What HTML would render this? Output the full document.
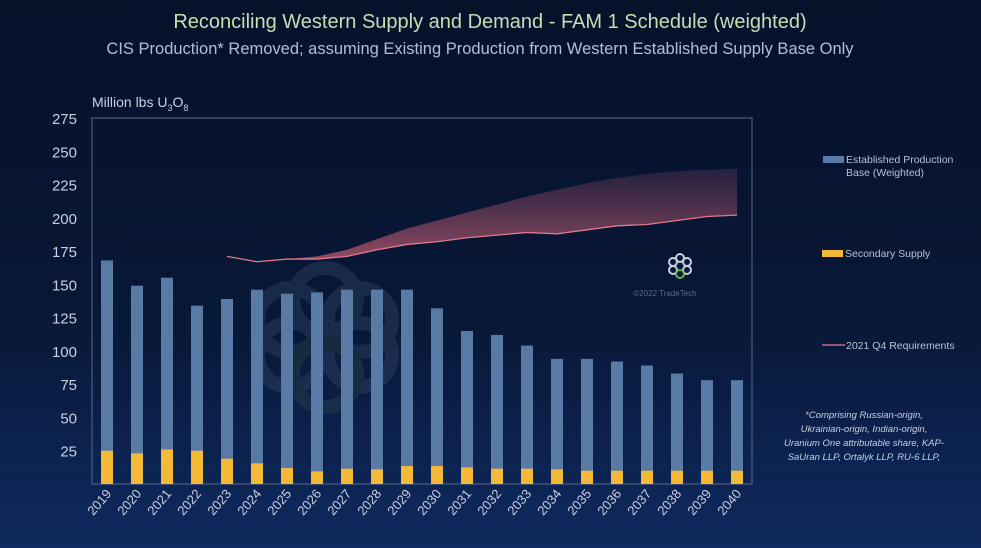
<!DOCTYPE html>
<html><head><meta charset="utf-8"><style>
html,body{margin:0;padding:0;}
body{width:981px;height:548px;overflow:hidden;background:linear-gradient(180deg,#06112a 0%,#081838 60%,#0f2a60 100%);font-family:"Liberation Sans",sans-serif;}
svg{display:block}
</style></head><body>
<svg width="981" height="548">
<defs>
<linearGradient id="bandGrad" x1="0" y1="0" x2="0" y2="1">
<stop offset="0" stop-color="#3a2a48" stop-opacity="0.6"/>
<stop offset="1" stop-color="#b0556a" stop-opacity="0.85"/>
</linearGradient>
</defs>
<text x="490" y="28" text-anchor="middle" font-size="20" fill="#c8ddb4">Reconciling Western Supply and Demand - FAM 1 Schedule (weighted)</text>
<text x="480" y="54" text-anchor="middle" font-size="16.5" fill="#b4bdd6">CIS Production* Removed; assuming Existing Production from Western Established Supply Base Only</text>
<text x="92" y="107" font-size="14" fill="#c8cfe0">Million lbs U<tspan font-size="9" dy="4">3</tspan><tspan dy="-4">O</tspan><tspan font-size="9" dy="4">8</tspan></text>
<rect x="92" y="118" width="660" height="366" fill="none" stroke="#5a6a88" stroke-width="1"/>
<g id="watermark" opacity="0.13" fill="none" stroke="#8aa0c0" stroke-width="14">
<circle cx="325" cy="300" r="32"/><circle cx="290" cy="320" r="32"/><circle cx="360" cy="320" r="32"/>
<circle cx="290" cy="355" r="32"/><circle cx="360" cy="355" r="32"/><circle cx="325" cy="375" r="32" stroke="#6a9a5a"/>
</g>
<g id="bars"></g>
<g id="bandLayer"></g>
<g id="yticks"></g>
<g id="xticks"></g>
<g fill="none" stroke-width="2">
<circle cx="680" cy="258" r="4" stroke="#c8d0e0"/><circle cx="673" cy="262" r="4" stroke="#c8d0e0"/><circle cx="687" cy="262" r="4" stroke="#c8d0e0"/>
<circle cx="673" cy="270" r="4" stroke="#c8d0e0"/><circle cx="687" cy="270" r="4" stroke="#c8d0e0"/><circle cx="680" cy="274" r="4" stroke="#6ab04a"/>
</g>
<text x="665" y="296" text-anchor="middle" font-size="8" fill="#5a6a88">©2022 TradeTech</text>
<g font-size="10.5" fill="#b8c0d4">
<rect x="823" y="156" width="21" height="7" fill="#5a7aa6"/>
<text x="846" y="163">Established Production</text>
<text x="846" y="176">Base (Weighted)</text>
<rect x="822" y="250" width="21" height="7" fill="#f4b936"/>
<text x="845" y="257">Secondary Supply</text>
<line x1="822" y1="345" x2="845" y2="345" stroke="#c06a80" stroke-width="1.5"/>
<text x="846" y="349">2021 Q4 Requirements</text>
</g>
<g font-size="9.5" font-style="italic" fill="#c8d0e0" text-anchor="middle">
<text x="864" y="418">*Comprising Russian-origin,</text>
<text x="864" y="432">Ukrainian-origin, Indian-origin,</text>
<text x="864" y="446">Uranium One attributable share, KAP-</text>
<text x="864" y="460">SaUran LLP, Ortalyk LLP, RU-6 LLP,</text>
</g>
</svg>
<script>
const years=[2019,2020,2021,2022,2023,2024,2025,2026,2027,2028,2029,2030,2031,2032,2033,2034,2035,2036,2037,2038,2039,2040];
const totalSupply=[168,149,155,134,139,146,143,144,146,146,146,132,115,112,104,94,94,92,89,83,78,78];
const secondary=[25,23,26,25,19,15.5,12,9.5,11.5,11,13.5,13.5,12.5,11.5,11.5,11,10,10,10,10,10,10];
const reqYears=[2023,2024,2025,2026,2027,2028,2029,2030,2031,2032,2033,2034,2035,2036,2037,2038,2039,2040];
const requirements=[171,167,169,169,171,176,180,182,185,187,189,188,191,194,195,198,201,202];
const reqUpper=[171,167,169,171,176,184,192,198,204,210,216,221,226,230,233,235,236,237];
const yTicks=[25,50,75,100,125,150,175,200,225,250,275];
const NS="http://www.w3.org/2000/svg";
const y0=484,pxPer=(484-118)/275;
const Y=v=>y0-v*pxPer;
const X=yr=>107+(yr-2019)*30;
function mk(t,a){const e=document.createElementNS(NS,t);for(const k in a)e.setAttribute(k,a[k]);return e;}
const bars=document.getElementById('bars');
years.forEach((yr,i)=>{
 const b=mk('rect',{x:X(yr)-6,y:Y(totalSupply[i]),width:12,height:Y(0)-Y(totalSupply[i]),fill:'#5a7aa6'});
 
 
 bars.appendChild(b);
 const s=mk('rect',{x:X(yr)-6,y:Y(secondary[i]),width:12,height:Y(0)-Y(secondary[i]),fill:'#f4b936'});
 
 
 bars.appendChild(s);
});
const bandLayer=document.getElementById('bandLayer');
let up=reqYears.map((yr,i)=>X(yr)+','+Y(reqUpper[i]));
let lo=reqYears.map((yr,i)=>X(yr)+','+Y(requirements[i])).reverse();
const poly=mk('polygon',{points:up.concat(lo).join(' '),fill:'url(#bandGrad)'});


bandLayer.appendChild(poly);
const line=mk('polyline',{points:reqYears.map((yr,i)=>X(yr)+','+Y(requirements[i])).join(' '),fill:'none',stroke:'#e07888','stroke-width':1.3});


bandLayer.appendChild(line);
const yt=document.getElementById('yticks');
yTicks.forEach(v=>{
 const t=mk('text',{x:77,y:Y(v)+6,'text-anchor':'end','font-size':15,fill:'#c8cfe0'});
 t.textContent=v;
 
 
 yt.appendChild(t);
});
const xt=document.getElementById('xticks');
years.forEach(yr=>{
 const x=X(yr)+5,y=494;
 const t=mk('text',{x:x,y:y,'text-anchor':'end','font-size':13,fill:'#c8cfe0',transform:`rotate(-50 ${x} ${y})`});
 t.textContent=yr;
 
 
 xt.appendChild(t);
});
</script>
</body></html>
